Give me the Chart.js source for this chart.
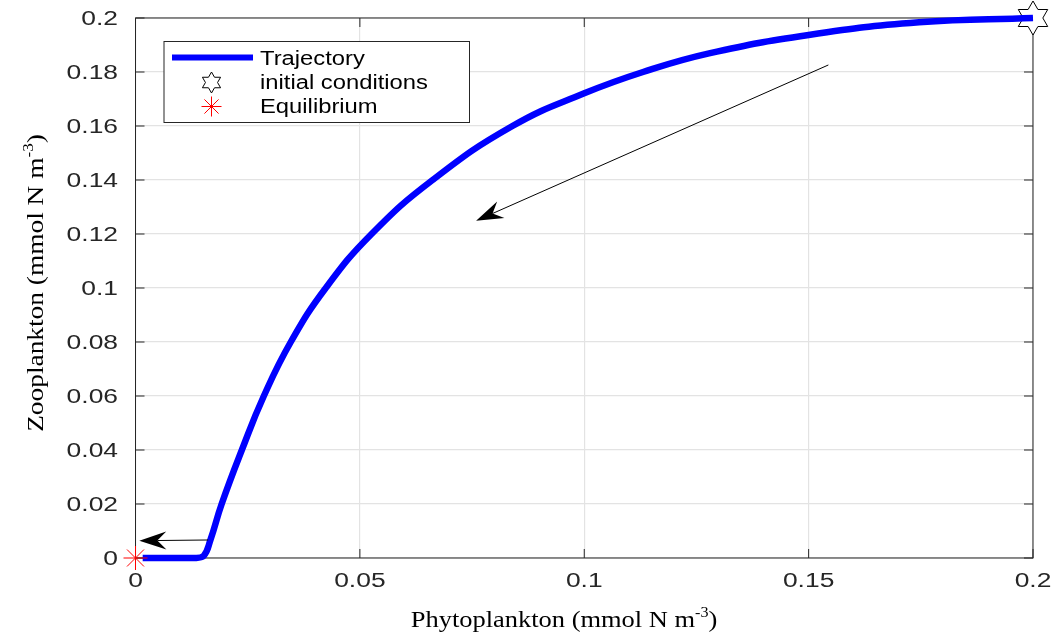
<!DOCTYPE html>
<html>
<head>
<meta charset="utf-8">
<script src="https://cdn.jsdelivr.net/npm/chart.js@4"></script>
<style>
  html, body { margin: 0; padding: 0; background: #fff; }
  #wrap { width: 1051px; height: 642px; }
</style>
</head>
<body>
<div id="wrap"><canvas id="phaseChart"></canvas></div>
<script>
// trajectory (phytoplankton, zooplankton)
const phyto = [0.0016, 0.006, 0.0132, 0.0152, 0.0167, 0.0192, 0.0237, 0.0286, 0.0346, 0.0424,
               0.0526, 0.0662, 0.084, 0.1, 0.1131, 0.1278, 0.15, 0.1746, 0.2];
const zoo   = [0, 0, 0, 0.0008, 0.0067, 0.02, 0.04, 0.06, 0.08, 0.1,
               0.12, 0.14, 0.16, 0.1721, 0.18, 0.1869, 0.1937, 0.1984, 0.2];

const initPhyto = [0.2];
const initZoo = [0.2];
const eqPhyto = [0];
const eqZoo = [0];

const seriesNames = ['Trajectory', 'initial conditions', 'Equilibrium'];

const xTicks = [0, 0.05, 0.1, 0.15, 0.2];
const xTickLabels = ['0', '0.05', '0.1', '0.15', '0.2'];
const yTicks = [0, 0.02, 0.04, 0.06, 0.08, 0.1, 0.12, 0.14, 0.16, 0.18, 0.2];
const yTickLabels = ['0', '0.02', '0.04', '0.06', '0.08', '0.1', '0.12', '0.14', '0.16', '0.18', '0.2'];

// arrows (tail -> head), data coordinates
const arrowFrom = [[0.1544, 0.1826], [0.0162, 0.00667]];
const arrowTo   = [[0.0759, 0.1249], [0.00085, 0.0064]];

const xTitle = 'Phytoplankton (mmol N m';
const yTitle = 'Zooplankton (mmol N m';
const unitSup = '-3';

const AXIS = '#262626';

function hexagramPath(ctx, x, y, R) {
    const r = R / Math.sqrt(3);
    ctx.beginPath();
    for (let i = 0; i < 12; i++) {
        const a = -Math.PI / 2 + i * Math.PI / 6;
        const rr = i % 2 === 0 ? R : r;
        const px = x + rr * Math.cos(a), py = y + rr * Math.sin(a);
        if (i === 0) ctx.moveTo(px, py); else ctx.lineTo(px, py);
    }
    ctx.closePath();
}

function makeHexagram(R) {
    const c = document.createElement('canvas');
    const s = Math.ceil(2 * R + 4);
    c.width = s; c.height = s;
    const g = c.getContext('2d');
    hexagramPath(g, s / 2, s / 2, R);
    g.fillStyle = '#fff';
    g.fill();
    g.strokeStyle = '#000';
    g.lineWidth = 1;
    g.stroke();
    return c;
}

function stretchedText(ctx, str, x, y, font, sx, align, color) {
    ctx.save();
    ctx.translate(x, y);
    ctx.scale(sx, 1);
    ctx.font = font;
    ctx.fillStyle = color;
    ctx.textAlign = align;
    ctx.textBaseline = 'alphabetic';
    ctx.fillText(str, 0, 0);
    ctx.restore();
}

// title with a small raised exponent, centred on the current origin
function titleWithSup(ctx, main, sup, sx, size) {
    const bigFont = size + 'px "Liberation Serif", "Times New Roman", serif';
    const smallFont = Math.round(size * 0.62) + 'px "Liberation Serif", "Times New Roman", serif';
    ctx.font = bigFont;
    const w1 = ctx.measureText(main).width;
    const w3 = ctx.measureText(')').width;
    ctx.font = smallFont;
    const w2 = ctx.measureText(sup).width;
    const total = w1 + w2 + w3;
    ctx.scale(sx, 1);
    ctx.fillStyle = '#000';
    ctx.textAlign = 'left';
    ctx.textBaseline = 'alphabetic';
    let x = -total / 2;
    ctx.font = bigFont;
    ctx.fillText(main, x, 0);
    x += w1;
    ctx.font = smallFont;
    ctx.fillText(sup, x, -size * 0.42);
    x += w2;
    ctx.font = bigFont;
    ctx.fillText(')', x, 0);
}

const framePlugin = {
    id: 'frame',
    beforeDatasetsDraw(chart) {
        const { ctx, chartArea: a, scales } = chart;
        ctx.save();
        ctx.strokeStyle = AXIS;
        ctx.lineWidth = 1;
        ctx.strokeRect(a.left, a.top, a.right - a.left, a.bottom - a.top);
        const tl = 9;
        ctx.beginPath();
        xTicks.forEach(v => {
            const px = scales.x.getPixelForValue(v);
            ctx.moveTo(px, a.bottom); ctx.lineTo(px, a.bottom - tl);
            ctx.moveTo(px, a.top); ctx.lineTo(px, a.top + tl);
        });
        yTicks.forEach(v => {
            const py = scales.y.getPixelForValue(v);
            ctx.moveTo(a.left, py); ctx.lineTo(a.left + tl, py);
            ctx.moveTo(a.right, py); ctx.lineTo(a.right - tl, py);
        });
        ctx.stroke();
        ctx.restore();
    },
    afterDatasetsDraw(chart) {
        const { ctx, scales } = chart;
        // arrows
        ctx.save();
        arrowFrom.forEach((from, i) => {
            const to = arrowTo[i];
            const x0 = scales.x.getPixelForValue(from[0]), y0 = scales.y.getPixelForValue(from[1]);
            const x1 = scales.x.getPixelForValue(to[0]), y1 = scales.y.getPixelForValue(to[1]);
            const ang = Math.atan2(y1 - y0, x1 - x0);
            const len = 27, half = 9, notch = 18;
            const ux = Math.cos(ang), uy = Math.sin(ang);
            const bx = x1 - ux * len, by = y1 - uy * len;
            const nx = x1 - ux * notch, ny = y1 - uy * notch;
            ctx.strokeStyle = '#000';
            ctx.lineWidth = 1;
            ctx.beginPath();
            ctx.moveTo(x0, y0);
            ctx.lineTo(nx, ny);
            ctx.stroke();
            ctx.fillStyle = '#000';
            ctx.beginPath();
            ctx.moveTo(x1, y1);
            ctx.lineTo(bx - uy * half, by + ux * half);
            ctx.lineTo(nx, ny);
            ctx.lineTo(bx + uy * half, by - ux * half);
            ctx.closePath();
            ctx.fill();
        });
        ctx.restore();
    },
    afterDraw(chart) {
        const { ctx, chartArea: a, scales } = chart;
        const tickFont = '20px "Liberation Sans", Arial, sans-serif';
        xTicks.forEach((v, i) => {
            stretchedText(ctx, xTickLabels[i], scales.x.getPixelForValue(v), a.bottom + 29,
                tickFont, 1.32, 'center', AXIS);
        });
        yTicks.forEach((v, i) => {
            stretchedText(ctx, yTickLabels[i], a.left - 17.5, scales.y.getPixelForValue(v) + 7.3,
                tickFont, 1.32, 'right', AXIS);
        });

        // axis titles
        ctx.save();
        ctx.translate(564, 627);
        titleWithSup(ctx, xTitle, unitSup, 1.15, 23);
        ctx.restore();
        ctx.save();
        ctx.translate(43, (a.top + a.bottom) / 2 - 5);
        ctx.rotate(-Math.PI / 2);
        titleWithSup(ctx, yTitle, unitSup, 1.14, 24);
        ctx.restore();

        // legend box
        const ds = chart.data.datasets;
        ctx.save();
        const lx = 164, ly = 41.5, lw = 305.5, lh = 81;
        ctx.fillStyle = '#fff';
        ctx.fillRect(lx, ly, lw, lh);
        ctx.strokeStyle = AXIS;
        ctx.lineWidth = 1;
        ctx.strokeRect(lx, ly, lw, lh);
        ctx.strokeStyle = ds[1].borderColor;
        ctx.lineWidth = 6;
        ctx.beginPath();
        ctx.moveTo(172, 57.5);
        ctx.lineTo(253, 57.5);
        ctx.stroke();
        hexagramPath(ctx, 211.5, 82.5, 10.5);
        ctx.fillStyle = '#fff';
        ctx.fill();
        ctx.strokeStyle = '#000';
        ctx.lineWidth = 1;
        ctx.stroke();
        ctx.strokeStyle = ds[0].pointBorderColor;
        ctx.fillStyle = ds[0].pointBorderColor;
        Chart.helpers.drawPoint(ctx, { pointStyle: 'star', radius: 10, rotation: 0, borderWidth: 1 }, 211.5, 106.5);
        ctx.restore();
        const legFont = '19.5px "Liberation Sans", Arial, sans-serif';
        const baselines = [65, 89, 112.5];
        seriesNames.forEach((n, i) => stretchedText(ctx, n, 260, baselines[i], legFont, 1.22, 'left', '#000'));
    }
};

const ctx = document.getElementById('phaseChart').getContext('2d');
new Chart(ctx, {
    type: 'line',
    data: {
        datasets: [
            {
                label: seriesNames[2],
                data: eqPhyto.map((x, i) => ({ x, y: eqZoo[i] })),
                showLine: false,
                pointStyle: 'star',
                pointRadius: 12,
                pointBorderColor: '#ff0000',
                pointBackgroundColor: '#ff0000',
                pointBorderWidth: 1,
                clip: false,
            },
            {
                label: seriesNames[0],
                data: phyto.map((x, i) => ({ x, y: zoo[i] })),
                borderColor: '#0000ff',
                borderWidth: 6.5,
                borderCapStyle: 'butt',
                borderJoinStyle: 'round',
                pointRadius: 0,
                tension: 0.45,
                fill: false,
                clip: false,
            },
            {
                label: seriesNames[1],
                data: initPhyto.map((x, i) => ({ x, y: initZoo[i] })),
                showLine: false,
                pointStyle: makeHexagram(17),
                pointRadius: 17,
                clip: false,
            },
        ],
    },
    options: {
        responsive: true,
        maintainAspectRatio: false,
        animation: false,
        events: [],
        layout: { padding: { left: 0, right: 16.5, top: 18, bottom: 0 } },
        plugins: {
            legend: { display: false },
            tooltip: { enabled: false },
        },
        scales: {
            x: {
                type: 'linear',
                min: 0,
                max: 0.2,
                afterBuildTicks: (s) => { s.ticks = xTicks.map(v => ({ value: v })); },
                afterFit: (s) => { s.height = 84; },
                ticks: { display: false },
                grid: { color: '#e3e3e3', lineWidth: 1.2, drawTicks: false },
                border: { display: false },
            },
            y: {
                type: 'linear',
                min: 0,
                max: 0.2,
                afterBuildTicks: (s) => { s.ticks = yTicks.map(v => ({ value: v })); },
                afterFit: (s) => { s.width = 135.5; },
                ticks: { display: false },
                grid: { color: '#e3e3e3', lineWidth: 1.2, drawTicks: false },
                border: { display: false },
            },
        },
    },
    plugins: [framePlugin],
});
</script>
</body>
</html>
